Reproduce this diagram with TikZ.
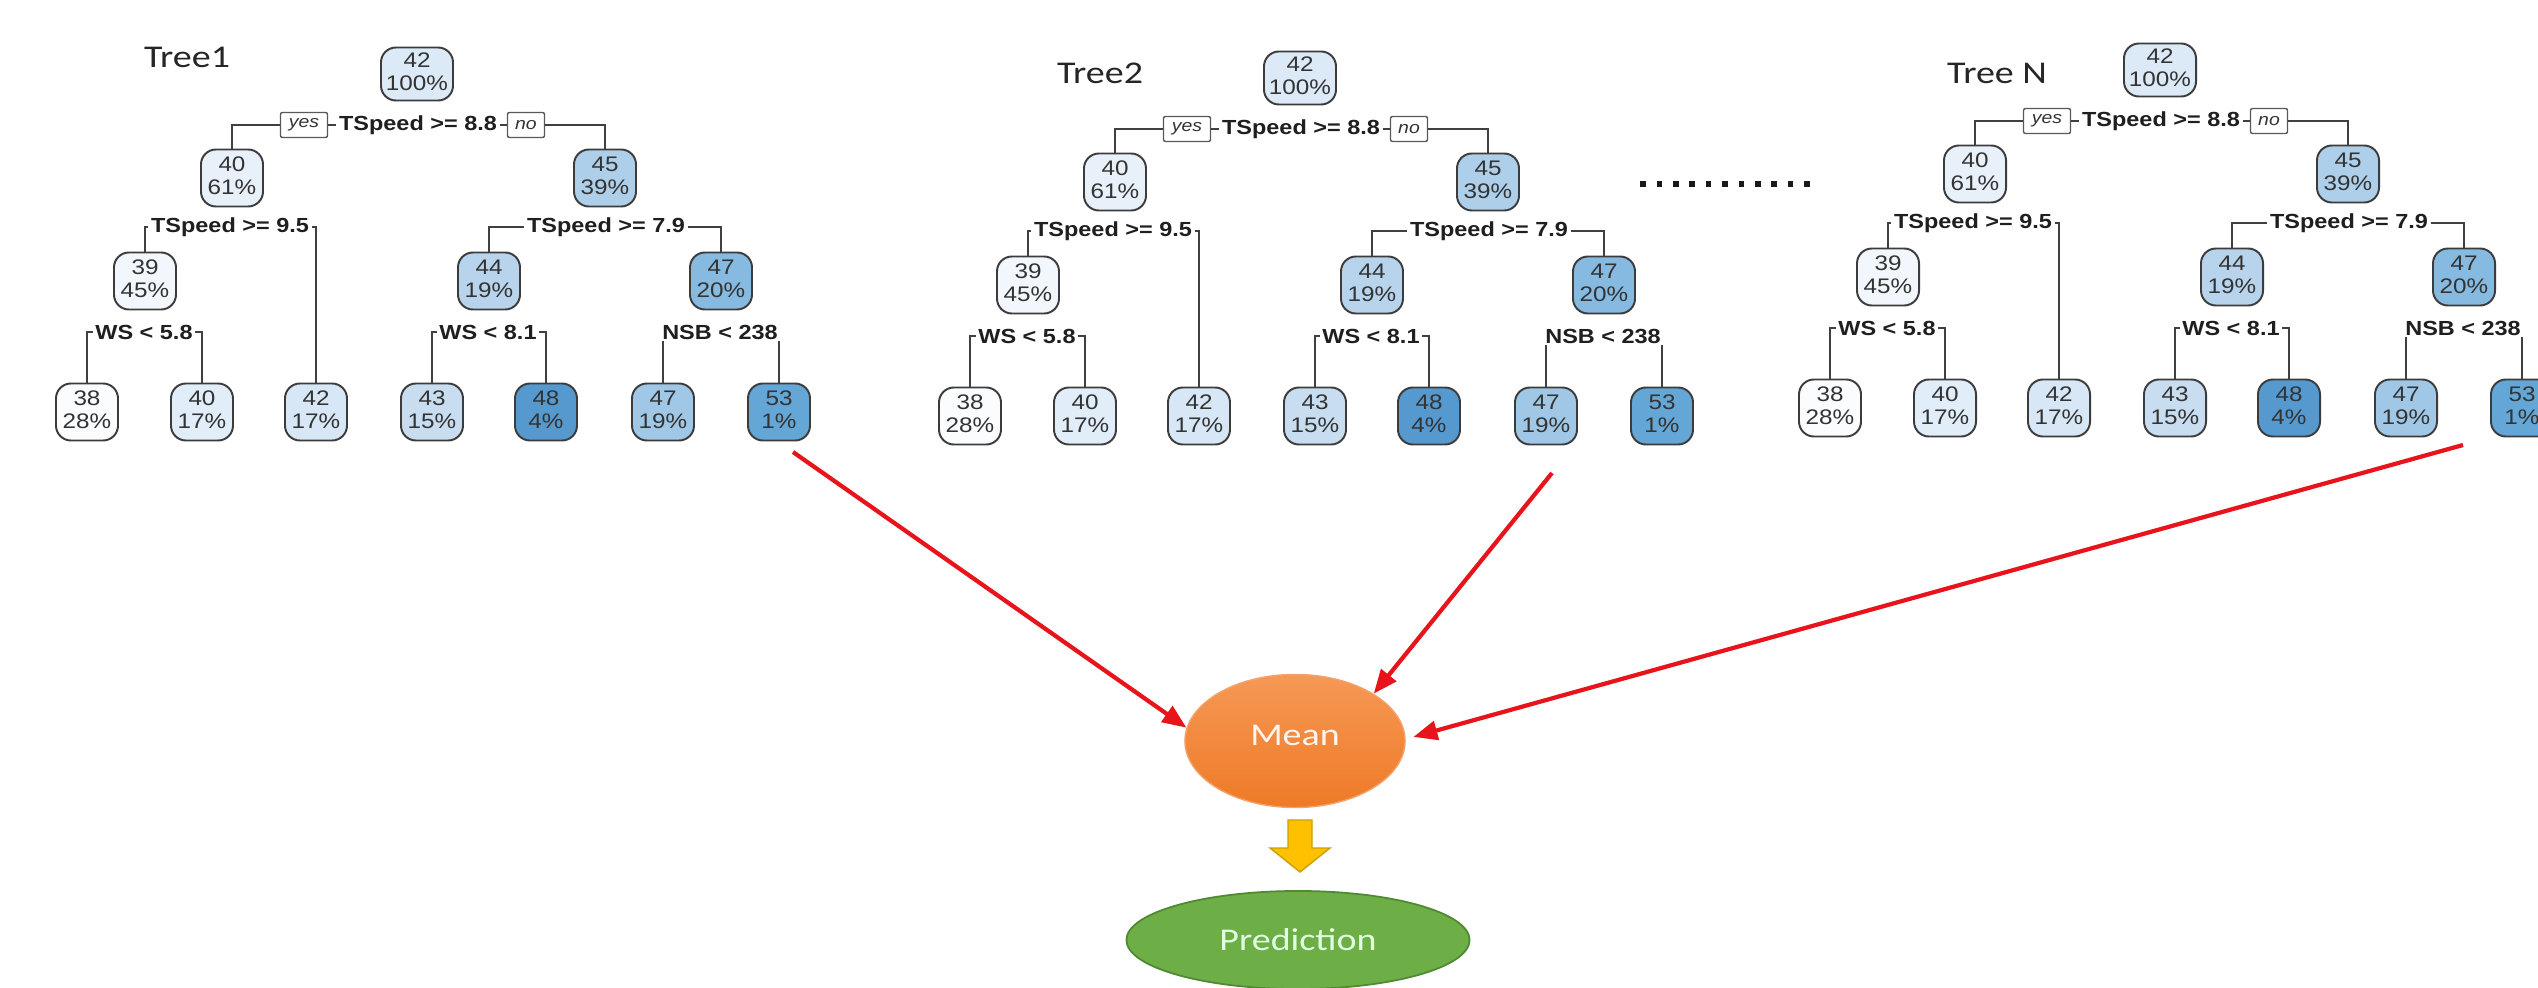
\documentclass[tikz,border=0pt]{standalone}
\usepackage{fontspec}
\usepackage{graphicx}
\setmainfont{Liberation Sans}
\newfontfamily\calfont{Carlito}
\usetikzlibrary{shapes.geometric,arrows.meta}

\definecolor{nodeborder}{HTML}{3C3C3C}
\definecolor{textgray}{HTML}{333333}
\definecolor{linegray}{HTML}{404040}
\definecolor{c38}{HTML}{FAFCFE}
\definecolor{c39}{HTML}{F1F7FC}
\definecolor{c40a}{HTML}{E8F1FA}
\definecolor{c40b}{HTML}{E1EDF8}
\definecolor{c42r}{HTML}{DCE9F6}
\definecolor{c42}{HTML}{D7E7F5}
\definecolor{c43}{HTML}{C9DDF0}
\definecolor{c44}{HTML}{B8D4ED}
\definecolor{c45}{HTML}{AECFEA}
\definecolor{c47l}{HTML}{A0C8E6}
\definecolor{c47i}{HTML}{86BAE0}
\definecolor{c53}{HTML}{64A6D6}
\definecolor{c48}{HTML}{5599CF}
\definecolor{arrowred}{HTML}{E8141C}
\definecolor{meantop}{HTML}{F69856}
\definecolor{meanbot}{HTML}{EE7A26}
\definecolor{meanedge}{HTML}{F3A26C}
\definecolor{predfill}{HTML}{6DAE47}
\definecolor{prededge}{HTML}{4F8A32}
\definecolor{yellowfill}{HTML}{FFC000}
\definecolor{yellowedge}{HTML}{C8A000}

\newcommand{\sx}[1]{\scalebox{1.15}[1]{#1}}
\newcommand{\nd}[2]{\sx{\begin{tabular}{@{}c@{}}#1\\#2\end{tabular}}}

\tikzset{
  tn/.style={draw=nodeborder, line width=0.55pt, rounded corners=0.15cm,
    minimum width=0.62cm, minimum height=0.57cm, inner sep=0pt,
    text=textgray, font=\fontsize{6.0}{6.6}\selectfont},
  sp/.style={inner xsep=0.02cm, inner ysep=0.01cm,
    font=\fontsize{5.8}{6.6}\selectfont\bfseries, text=black!88},
  yn/.style={draw=gray!70!black, line width=0.4pt, rounded corners=0.02cm,
    minimum height=0.25cm, inner sep=0pt, text=textgray,
    font=\fontsize{4.8}{5}\selectfont\itshape},
  ln/.style={draw=linegray, line width=0.5pt},
  treelabel/.style={font=\calfont\fontsize{9}{10}\selectfont, text=black!85},
  redarrow/.style={draw=arrowred, line width=1.2pt,
    -{Triangle[length=0.24cm,width=0.19cm]}},
}

\newcommand{\rtree}[3]{%
\begin{scope}[shift={(#2,#3)}]
\node[tn, fill=c42r, minimum width=0.72cm, minimum height=0.53cm] (#1r) at (417,74) {\nd{42}{100\%}};
\node[sp] (#1s0) at (418,125) {\sx{TSpeed >= 8.8}};
\node[yn, minimum width=0.47cm] (#1yes) at (304,125) {\sx{yes}};
\node[yn, minimum width=0.37cm] (#1no) at (526,125) {\sx{no}};
\node[tn, fill=c40a] (#1a) at (232,178) {\nd{40}{61\%}};
\node[tn, fill=c45] (#1b) at (605,178) {\nd{45}{39\%}};
\node[sp] (#1s1) at (230,227) {\sx{TSpeed >= 9.5}};
\node[sp] (#1s2) at (606,227) {\sx{TSpeed >= 7.9}};
\node[tn, fill=c39] (#1c) at (145,281) {\nd{39}{45\%}};
\node[tn, fill=c44] (#1d) at (489,281) {\nd{44}{19\%}};
\node[tn, fill=c47i] (#1e) at (721,281) {\nd{47}{20\%}};
\node[sp] (#1s3) at (144,332) {\sx{WS < 5.8}};
\node[sp] (#1s4) at (488,332) {\sx{WS < 8.1}};
\node[sp] (#1s5) at (720,332) {\sx{NSB < 238}};
\node[tn, fill=c38] (#1l1) at (87,412) {\nd{38}{28\%}};
\node[tn, fill=c40b] (#1l2) at (202,412) {\nd{40}{17\%}};
\node[tn, fill=c42] (#1l3) at (316,412) {\nd{42}{17\%}};
\node[tn, fill=c43] (#1l4) at (432,412) {\nd{43}{15\%}};
\node[tn, fill=c48] (#1l5) at (546,412) {\nd{48}{4\%}};
\node[tn, fill=c47l] (#1l6) at (663,412) {\nd{47}{19\%}};
\node[tn, fill=c53] (#1l7) at (779,412) {\nd{53}{1\%}};
\draw[ln] (#1a.north) |- (#1yes.west);
\draw[ln] (#1yes.east) -- (#1s0.west);
\draw[ln] (#1s0.east) -- (#1no.west);
\draw[ln] (#1no.east) -| (#1b.north);
\draw[ln] (#1c.north) |- (#1s1.west);
\draw[ln] (#1l3.north) |- (#1s1.east);
\draw[ln] (#1d.north) |- (#1s2.west);
\draw[ln] (#1e.north) |- (#1s2.east);
\draw[ln] (#1l1.north) |- (#1s3.west);
\draw[ln] (#1l2.north) |- (#1s3.east);
\draw[ln] (#1l4.north) |- (#1s4.west);
\draw[ln] (#1l5.north) |- (#1s4.east);
\draw[ln] (#1l6.north) -- (#1l6.north |- #1s5.south);
\draw[ln] (#1l7.north) -- (#1l7.north |- #1s5.south);
\end{scope}}

\begin{document}
\begin{tikzpicture}[x=0.01cm, y=-0.01cm]
\useasboundingbox (0,0) rectangle (2538,988);
\fill[white] (0,0) rectangle (2538,988);

% trees
\rtree{A}{0}{0}
\rtree{B}{883}{4}
\rtree{N}{1743}{-4}

% tree labels
\node[treelabel] (labA) at (187,57) {\scalebox{1.2}[1]{Tree1}};
\node[treelabel] (labB) at (1100,73) {\scalebox{1.2}[1]{Tree2}};
\node[treelabel] (labN) at (1997,73) {\scalebox{1.2}[1]{Tree N}};

% dots
\foreach \i in {0,...,10} {
  \fill[black!90] (1643+16.4*\i-2.8,181.2) rectangle ++(5.6,5.6);
}

% Mean and Prediction
\node[ellipse, minimum width=2.2cm, minimum height=1.33cm, inner sep=0pt,
  top color=meantop, bottom color=meanbot, draw=meanedge, line width=0.4pt,
  text=white!92!orange, font=\calfont\fontsize{9}{10}\selectfont]
  (mean) at (1295,741) {\raisebox{0.12cm}{\scalebox{1.2}[1]{Mean}}};
\node[ellipse, minimum width=3.43cm, minimum height=0.98cm, inner sep=0pt,
  fill=predfill, draw=prededge, line width=0.5pt,
  text=white!88!green, font=\calfont\fontsize{9}{10}\selectfont]
  (pred) at (1298,940) {\scalebox{1.2}[1]{Prediction}};

% yellow block arrow
\draw[fill=yellowfill, draw=yellowedge, line width=0.4pt]
  (1288,820) -- (1312,820) -- (1312,848) -- (1330,848) -- (1300,872)
  -- (1270,848) -- (1288,848) -- cycle;

% red arrows
\coordinate (st1) at (793,452);
\coordinate (st2) at (1552,473);
\coordinate (st3) at (2463,445);
\draw[redarrow] (st1) -- (mean.173);
\draw[redarrow] (st2) -- (mean.31);
\draw[redarrow, shorten >=0.08cm] (st3) -- (mean.1);
\end{tikzpicture}
\end{document}
